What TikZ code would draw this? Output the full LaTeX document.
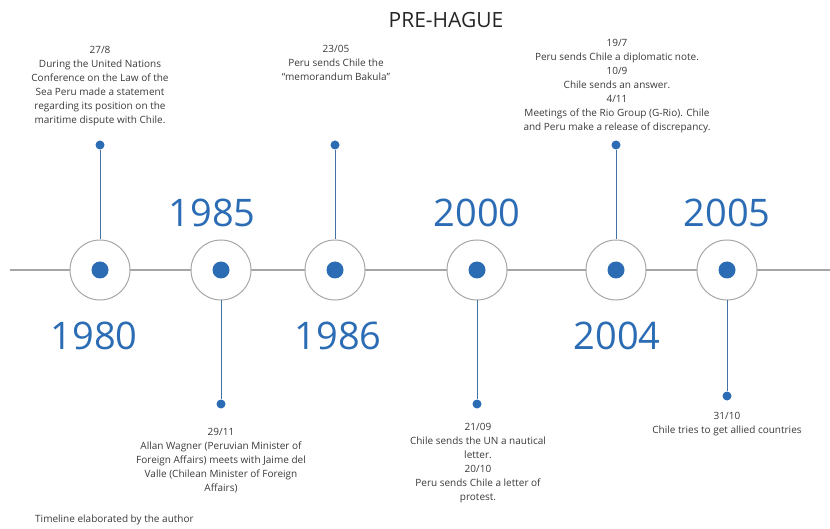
\documentclass[tikz,border=0pt]{standalone}
\usepackage{fontspec}
\setmainfont{Open Sans}
\definecolor{tlblue}{HTML}{2B6CB5}
\definecolor{tlgray}{HTML}{A6A6A6}
\definecolor{txtgray}{HTML}{3A3A3A}
\begin{document}
\begin{tikzpicture}[x=1pt,y=-1pt,
  ring/.style={circle,draw=tlgray,line width=1pt,minimum size=60pt,inner sep=0pt},
  bigdot/.style={circle,fill=tlblue,minimum size=17pt,inner sep=0pt},
  smalldot/.style={circle,fill=tlblue,minimum size=9pt,inner sep=0pt},
  stem/.style={draw=tlblue!70!gray,line width=0.8pt},
  year/.style={text=tlblue,font=\fontsize{38}{40}\selectfont,inner sep=0pt},
  evt/.style={text=txtgray,font=\fontsize{10}{14}\selectfont,align=center,inner sep=0pt}]
\useasboundingbox (0,0) rectangle (830,529);
\node[text=black!85,font=\fontsize{21}{24}\selectfont,inner sep=0pt] (title) at (446,20) {PRE-HAGUE};
\coordinate (L) at (10,270);
\coordinate (R) at (830,270);
\draw[tlgray,line width=1.2pt] (L) -- (R);
% rings
\foreach \n/\x in {a/100,b/221,c/335,d/477,e/616,f/727}{
  \node[ring,fill=white] (r\n) at (\x,270) {};
  \node[bigdot] (d\n) at (\x,270) {};
}
% stems up
\node[smalldot] (sa) at (100,145) {};
\node[smalldot] (sc) at (335,145) {};
\node[smalldot] (se) at (616,145) {};
\draw[stem] (sa) -- (ra.north);
\draw[stem] (sc) -- (rc.north);
\draw[stem] (se) -- (re.north);
% stems down
\node[smalldot] (sb) at (221,404) {};
\node[smalldot] (sd) at (477,404) {};
\node[smalldot] (sf) at (727,396) {};
\draw[stem] (rb.south) -- (sb);
\draw[stem] (rd.south) -- (sd);
\draw[stem] (rf.south) -- (sf);
% years
\node[year] (y1980) at (94,336) {1980};
\node[year] (y1985) at (212,213) {1985};
\node[year] (y1986) at (338,336) {1986};
\node[year] (y2000) at (477,213) {2000};
\node[year] (y2004) at (617,336) {2004};
\node[year] (y2005) at (727,213) {2005};
% events
\node[evt,anchor=north] (ea) at (100,46) {27/8\\During the United Nations\\Conference on the Law of the\\Sea Peru made a statement\\regarding its position on the\\maritime dispute with Chile.};
\node[evt,anchor=north] (ec) at (336,45) {23/05\\Peru sends Chile the\\“memorandum Bakula”};
\node[evt,anchor=north] (ee) at (617,39) {19/7\\Peru sends Chile a diplomatic note.\\10/9\\Chile sends an answer.\\4/11\\Meetings of the Rio Group (G-Rio). Chile\\and Peru make a release of discrepancy.};
\node[evt,anchor=north] (eb) at (221,428) {29/11\\Allan Wagner (Peruvian Minister of\\Foreign Affairs) meets with Jaime del\\Valle (Chilean Minister of Foreign\\Affairs)};
\node[evt,anchor=north] (ed) at (478,423) {21/09\\Chile sends the UN a nautical\\letter.\\20/10\\Peru sends Chile a letter of\\protest.};
\node[evt,anchor=north] (ef) at (727,412) {31/10\\Chile tries to get allied countries};
\node[evt,anchor=west] (foot) at (35,520) {Timeline elaborated by the author};
\end{tikzpicture}
\end{document}
